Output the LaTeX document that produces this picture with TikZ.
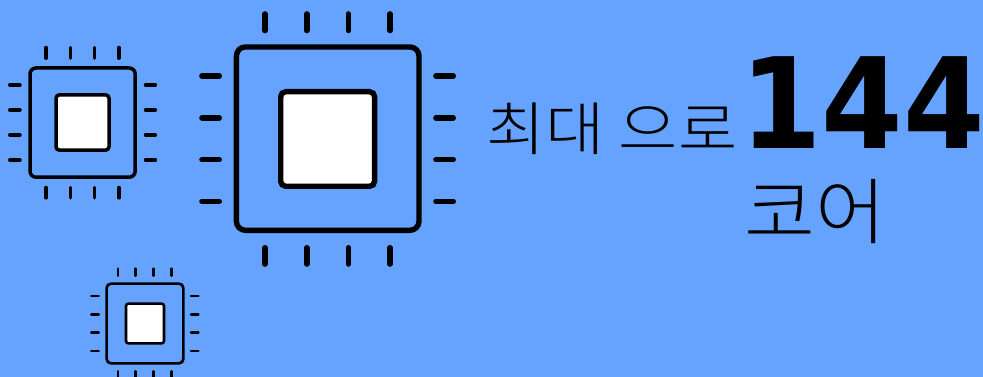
\documentclass[tikz,border=0pt]{standalone}
\usepackage{fontspec}
\newfontfamily\krfont{Noto Sans CJK KR Light}
\newfontfamily\numfont{DejaVu Sans}
\definecolor{bgblue}{HTML}{66A3FF}
\tikzset{
  outerbox/.style={draw=black,line join=round,rounded corners=#1},
  innerbox/.style={draw=black,fill=white,rounded corners=#1},
  pin/.style={draw=black,line cap=round},
  krtext/.style={inner sep=0pt,anchor=base west,text=black},
}
\begin{document}
\begin{tikzpicture}[x=1pt,y=-1pt]
\useasboundingbox (0,0) rectangle (983,377);
\fill[bgblue] (0,0) rectangle (983,377);
% large chip
\draw[outerbox=9pt,line width=5.4pt] (236.4,47) rectangle (419,230.3);
\draw[innerbox=5pt,line width=5.4pt] (280.7,91.7) rectangle (374.6,186.3);
\foreach \x in {265,306.7,348.3,390}{
  \draw[pin,line width=5.6pt] (\x,14) -- (\x,30.5);
  \draw[pin,line width=5.6pt] (\x,247.8) -- (\x,264);
}
\foreach \y in {76,117.8,159.7,201.3}{
  \draw[pin,line width=5.6pt] (202,\y) -- (219.2,\y);
  \draw[pin,line width=5.6pt] (436,\y) -- (453.2,\y);
}
% left chip
\draw[outerbox=6pt,line width=3.5pt] (30,68) rectangle (135.2,177.2);
\draw[innerbox=3.5pt,line width=3.5pt] (56,94.8) rectangle (109,150.2);
\foreach \x in {46,70.4,94.6,119}{
  \draw[pin,line width=3.5pt] (\x,47.5) -- (\x,58.2);
  \draw[pin,line width=3.5pt] (\x,187.5) -- (\x,197.8);
}
\foreach \y in {85,110,135,160}{
  \draw[pin,line width=3.5pt] (9.8,\y) -- (20,\y);
  \draw[pin,line width=3.5pt] (145.5,\y) -- (155.3,\y);
}
% bottom chip
\draw[outerbox=4.5pt,line width=2.6pt] (106.6,283.6) rectangle (183.4,363.4);
\draw[innerbox=2.5pt,line width=2.6pt] (126,303.6) rectangle (164,343.4);
\foreach \x in {118,135.7,153.5,171.3}{
  \draw[pin,line width=2.6pt] (\x,268.6) -- (\x,275.7);
  \draw[pin,line width=2.6pt] (\x,371.3) -- (\x,385);
}
\foreach \y in {296,314.3,332.7,351}{
  \draw[pin,line width=2.6pt] (91.3,\y) -- (98.7,\y);
  \draw[pin,line width=2.6pt] (191,\y) -- (198.4,\y);
}
% text
\node[krtext,xscale=1.11] (lineone) at (486,151) {\krfont\fontsize{58}{58}\selectfont 최대 으로};
\node[krtext,xscale=0.93] (num) at (740,149) {\numfont\bfseries\fontsize{126}{126}\selectfont 144};
\node[krtext,xscale=1.07] (linetwo) at (744,238) {\krfont\fontsize{72}{72}\selectfont 코어};
\end{tikzpicture}
\end{document}
